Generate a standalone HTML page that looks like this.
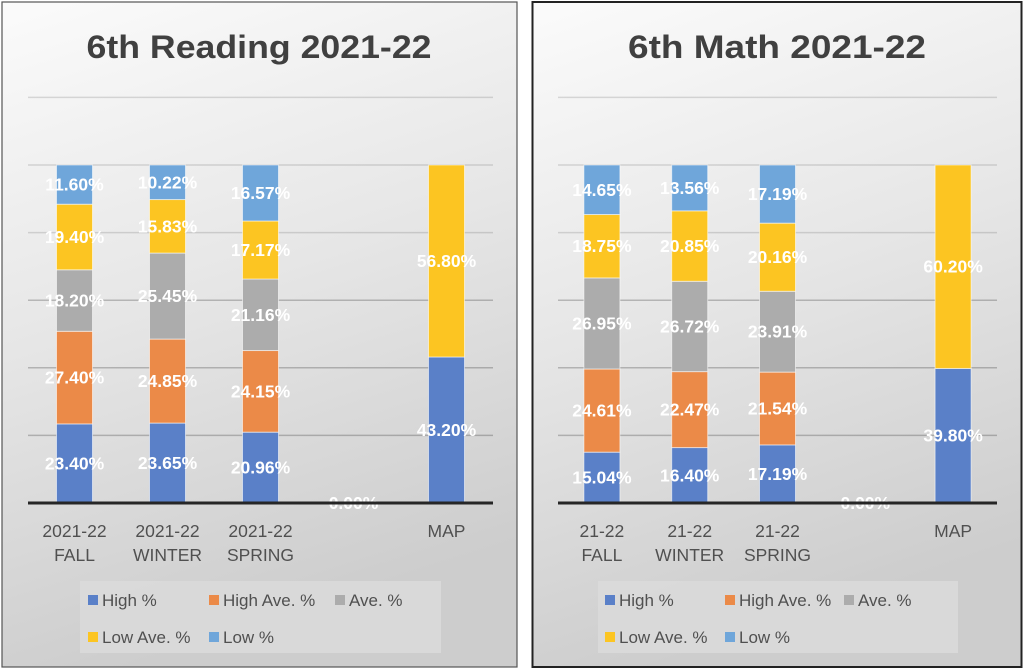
<!DOCTYPE html>
<html><head><meta charset="utf-8">
<style>
html,body{margin:0;padding:0;background:#fff;width:1024px;height:669px;overflow:hidden}
svg{display:block;font-family:"Liberation Sans",sans-serif}
</style></head>
<body>
<svg id="root" width="1024" height="669" viewBox="0 0 1024 669">
<defs>
<linearGradient id="bg" x1="0" y1="0" x2="0.25" y2="1">
<stop offset="0" stop-color="#fbfbfb"/><stop offset="0.5" stop-color="#e6e6e6"/><stop offset="1" stop-color="#cdcdcd"/>
</linearGradient>
</defs>
<rect x="0" y="0" width="1024" height="669" fill="#fff"/>
<rect x="2" y="2" width="515" height="665" fill="url(#bg)" stroke="#555" stroke-width="1.2"/>
<rect x="532.5" y="2" width="489" height="665" fill="url(#bg)" stroke="#222" stroke-width="2"/>
<g id="charts"></g>
</svg>
<script>
// Shared data
const seriesNames = ["High %","High Ave. %","Ave. %","Low Ave. %","Low %"];
const seriesColors = ["#5a80c8","#eb8a48","#acacac","#fcc522","#6fa6da"];
// Reading chart
const readingCategories = [["2021-22","FALL"],["2021-22","WINTER"],["2021-22","SPRING"],["",""],["MAP",""]];
const readingHigh = [23.40,23.65,20.96,0,43.20];
const readingHighAve = [27.40,24.85,24.15,0,0];
const readingAve = [18.20,25.45,21.16,0,0];
const readingLowAve = [19.40,15.83,17.17,0,56.80];
const readingLow = [11.60,10.22,16.57,0,0];
// Math chart
const mathCategories = [["21-22","FALL"],["21-22","WINTER"],["21-22","SPRING"],["",""],["MAP",""]];
const mathHigh = [15.04,16.40,17.19,0,39.80];
const mathHighAve = [24.61,22.47,21.54,0,0];
const mathAve = [26.95,26.72,23.91,0,0];
const mathLowAve = [18.75,20.85,20.16,0,60.20];
const mathLow = [14.65,13.56,17.19,0,0];
const yTicks = [0,20,40,60,80,100,120];

const NS="http://www.w3.org/2000/svg";
const root=document.getElementById('charts');
function mk(tag,attrs,parent){const e=document.createElementNS(NS,tag);for(const k in attrs)e.setAttribute(k,attrs[k]);(parent||root).appendChild(e);return e;}

function drawChart(cfg){
  const g=mk('g',{});
  
  
  const y0=503,y100=165;
  const yScale=v=>y0-(v/100)*(y0-y100);
  const n=cfg.categories.length;
  const step=(cfg.x1-cfg.x0)/n;
  const xC=i=>cfg.x0+step*(i+0.5);
  const t=mk('text',{x:cfg.titleX,y:58,'text-anchor':'middle','font-size':32,'font-weight':'bold',fill:'#404040',textLength:cfg.titleW,lengthAdjust:'spacingAndGlyphs'},g);
  t.textContent=cfg.title;
  
  
  yTicks.forEach(v=>{if(v===0)return;
    const l=mk('line',{x1:cfg.x0,x2:cfg.x1,y1:yScale(v),y2:yScale(v),stroke:v<=60?'rgba(0,0,0,0.22)':'rgba(0,0,0,0.13)','stroke-width':1.5},g);
    
    
  });
  const series=cfg.series;
  for(let i=0;i<n;i++){
    let cum=0;
    const total=series.reduce((s,a)=>s+a[i],0);
    for(let s=0;s<series.length;s++){
      const v=series[s][i];
      if(v<=0){continue;}
      const yt=yScale(cum+v),yb=yScale(cum);
      const r=mk('rect',{x:xC(i)-18,y:yt,width:36,height:yb-yt,fill:seriesColors[s],stroke:'rgba(255,255,255,0.55)','stroke-width':1},g);
      
      
      const lb=mk('text',{x:xC(i),y:(yt+yb)/2+6,'text-anchor':'middle','font-size':17.5,'font-weight':'bold',fill:'#fff'},g);
      lb.textContent=v.toFixed(2)+'%';
      
      
      cum+=v;
    }
    if(total===0){
      const lb=mk('text',{x:xC(i),y:y0+6,'text-anchor':'middle','font-size':17.5,'font-weight':'bold',fill:'#fff'},g);
      lb.textContent='0.00%';
      
      
    }
    cfg.categories[i].forEach((line,j)=>{
      if(!line)return;
      const c=mk('text',{x:xC(i),y:537+j*24,'text-anchor':'middle','font-size':17.5,fill:'#505050'},g);
      c.textContent=line;
      
      
    });
  }
  const ax=mk('line',{x1:cfg.x0,x2:cfg.x1,y1:y0,y2:y0,stroke:'#262626','stroke-width':3},g);
  
  
  const lg=mk('g',{},g);
  
  
  mk('rect',{x:cfg.legX,y:581,width:cfg.legW,height:72,fill:'#dadada',opacity:0.85},lg);
  const pos=[[0,0],[1,0],[2,0],[0,1],[1,1]];
  seriesNames.forEach((nm,s)=>{
    const px=cfg.legCols[pos[s][0]],py=600+pos[s][1]*37;
    const e=mk('g',{},lg);
    
    
    mk('rect',{x:px,y:py-5,width:10,height:10,fill:seriesColors[s]},e);
    const tx=mk('text',{x:px+14,y:py+6,'font-size':17,fill:'#505050'},e);
    tx.textContent=nm;
  });
}
drawChart({name:'reading-chart',title:'6th Reading 2021-22',titleX:259,titleW:345,x0:28,x1:493,
  categories:readingCategories,series:[readingHigh,readingHighAve,readingAve,readingLowAve,readingLow],
  legX:80,legW:361,legCols:[88,209,335]});
drawChart({name:'math-chart',title:'6th Math 2021-22',titleX:777,titleW:298,x0:558,x1:997,
  categories:mathCategories,series:[mathHigh,mathHighAve,mathAve,mathLowAve,mathLow],
  legX:598,legW:360,legCols:[605,725,844]});
</script>
</body></html>
